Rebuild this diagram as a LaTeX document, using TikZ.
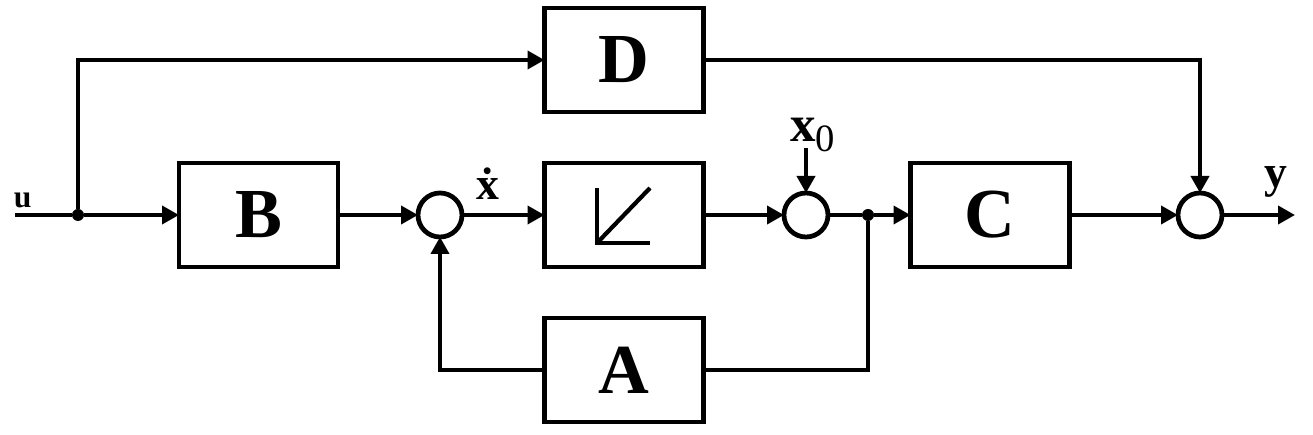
\documentclass[tikz,border=0pt]{standalone}
\usepackage{fontspec}
\setmainfont{Liberation Serif}
\usetikzlibrary{arrows.meta}

\begin{document}
\begin{tikzpicture}
			\tikzstyle{every node}+=[inner sep=0pt, outer sep=0pt]
			\tikzstyle{block}=[draw, line width=2.7pt, minimum width=3.18cm, minimum height=2.08cm, font=\fontsize{40}{40}\selectfont\bfseries]
			\tikzstyle{sum}=[draw, circle, line width=2.7pt, minimum size=0.88cm]
			\tikzstyle{wire}=[line width=2.2pt]
			\tikzstyle{sig}=[wire, -{Triangle[length=0.34cm,width=0.36cm]}]
			\tikzstyle{dot}=[circle, fill, minimum size=0.24cm]
			\useasboundingbox (0,0) rectangle (26.26,-8.7);
			% main path
			\coordinate (in) at (0.3,-4.3);
			\node [dot] (j1) at (1.56,-4.3) {};
			\node [block] (B) at (5.17,-4.3) {B};
			\node [sum] (s1) at (8.8,-4.3) {};
			\node [block] (I) at (12.48,-4.3) {};
			\node [sum] (s2) at (16.12,-4.3) {};
			\node [dot] (j2) at (17.36,-4.3) {};
			\node [block] (C) at (19.8,-4.3) {C};
			\node [sum] (s3) at (24,-4.3) {};
			\coordinate (out) at (25.9,-4.3);
			% feedthrough and feedback
			\node [block] (D) at (12.48,-1.2) {D};
			\node [block] (A) at (12.48,-7.4) {A};
			\coordinate (x0in) at (16.12,-2.96);
			% labels
			\node [anchor=base west, font=\fontsize{18}{18}\selectfont\bfseries] (u) at (0.28,-4.16) {u};
			\node [anchor=base west, font=\fontsize{26}{26}\selectfont\bfseries] (xd) at (9.52,-4.0) {\.{x}};
			\node [anchor=base west, font=\fontsize{29}{29}\selectfont\bfseries] (x0) at (15.8,-2.84) {x\raisebox{-0.2cm}{\fontsize{22}{22}\selectfont\mdseries 0}};
			\node [anchor=base west, font=\fontsize{26}{26}\selectfont\bfseries] (y) at (25.28,-3.76) {y};
			% integrator sign
			\draw [line width=2.4pt] ([shift={(-0.54,0.54)}]I.center) -- ([shift={(-0.54,-0.56)}]I.center) -- ([shift={(0.52,-0.56)}]I.center);
			\draw [line width=2.4pt] ([shift={(-0.54,-0.56)}]I.center) -- ([shift={(0.52,0.54)}]I.center);
			% connections
			\draw [wire] (in) -- (j1);
			\draw [sig] (j1) -- (B);
			\draw [sig] (j1) |- (D);
			\draw [sig] (B) -- (s1);
			\draw [sig] (s1) -- (I);
			\draw [sig] (I) -- (s2);
			\draw [sig] (x0in) -- (s2);
			\draw [wire] (s2) -- (j2);
			\draw [sig] (j2) -- (C);
			\draw [sig] (C) -- (s3);
			\draw [sig] (s3) -- (out);
			\draw [wire] (j2) |- (A);
			\draw [sig] (A) -| (s1);
			\draw [sig] (D) -| (s3);
\end{tikzpicture}
\end{document}
